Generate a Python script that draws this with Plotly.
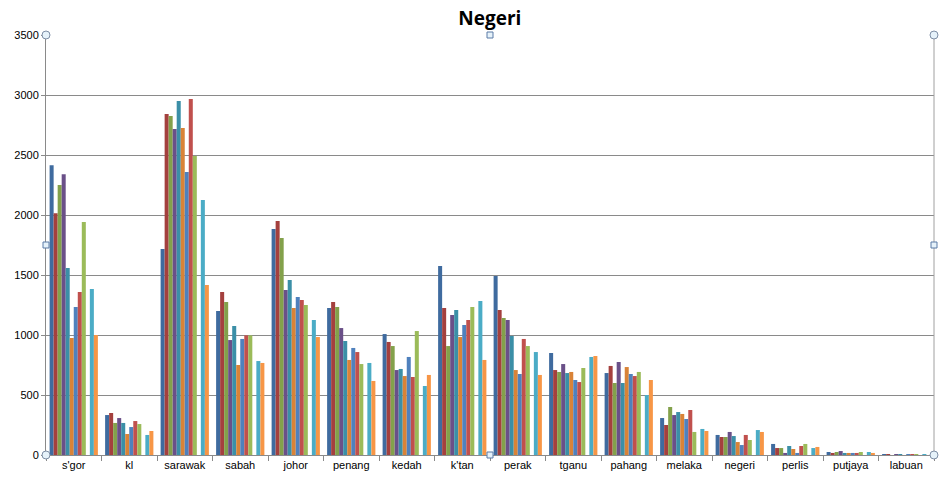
import plotly.graph_objects as go

categories = ["s'gor", "kl", "sarawak", "sabah", "johor", "penang", "kedah", "k'tan",
              "perak", "tganu", "pahang", "melaka", "negeri", "perlis", "putjaya", "labuan"]

s1 = [2415, 333, 1717, 1200, 1883, 1225, 1008, 1575, 1492, 850, 683, 308, 167, 92, 25, 8]
s2 = [2015, 350, 2842, 1358, 1950, 1275, 942, 1225, 1208, 708, 742, 250, 150, 58, 17, 8]
s3 = [2250, 267, 2825, 1275, 1808, 1233, 908, 908, 1142, 692, 600, 400, 150, 58, 25, 0]
s4 = [2340, 308, 2717, 958, 1375, 1058, 708, 1167, 1125, 758, 775, 333, 192, 17, 33, 8]
s5 = [1558, 267, 2950, 1075, 1458, 950, 717, 1208, 992, 683, 600, 358, 158, 75, 17, 8]
s6 = [975, 175, 2725, 750, 1225, 792, 658, 983, 708, 692, 733, 342, 108, 50, 17, 0]
s7 = [1233, 233, 2358, 967, 1317, 892, 817, 1083, 675, 625, 675, 300, 83, 17, 17, 8]
s8 = [1358, 283, 2967, 997, 1292, 858, 650, 1125, 967, 608, 658, 375, 167, 75, 17, 8]
s9 = [1942, 258, 2492, 997, 1250, 758, 1033, 1233, 908, 725, 692, 192, 125, 92, 25, 8]
s10 = [0, 0, 0, 0, 0, 0, 0, 0, 0, 0, 0, 0, 0, 0, 0, 0]
s11 = [1383, 167, 2125, 783, 1125, 767, 575, 1283, 858, 817, 500, 217, 208, 58, 25, 8]
s12 = [1000, 200, 1417, 767, 983, 617, 667, 792, 667, 825, 625, 200, 192, 67, 17, 0]

series = [s1, s2, s3, s4, s5, s6, s7, s8, s9, s10, s11, s12]
colors = ["#3F6B9F", "#A4403E", "#83A14B", "#6A5088", "#3B8FA7", "#D98337",
          "#4F81BD", "#C0504D", "#9BBB59", "#8064A2", "#4BACC6", "#F79646"]

fig = go.Figure()
for i, (vals, c) in enumerate(zip(series, colors)):
    fig.add_trace(go.Bar(x=categories, y=vals, marker=dict(color=c, line=dict(width=0)),
                         name=f"Series{i+1}"))

fig.update_layout(
    width=942, height=485,
    margin=dict(l=46, r=8, t=35, b=30),
    paper_bgcolor="white", plot_bgcolor="white",
    barmode="group", bargap=0.13, bargroupgap=0,
    showlegend=False,
    title=dict(text="<b>Negeri</b>", x=0.52, xanchor="center", y=0.963, yanchor="middle",
               font=dict(family="Open Sans", size=19, color="black")),
    font=dict(family="Liberation Sans", size=11, color="black"),
)
fig.update_yaxes(range=[0, 3500], dtick=500, showgrid=True, gridcolor="#8A8A8A", gridwidth=1,
                 showline=True, linecolor="#8A8A8A", ticks="outside", ticklen=4,
                 tickcolor="#8A8A8A", zeroline=False, tickfont=dict(size=11))
fig.update_xaxes(showline=True, linecolor="#8A8A8A", ticks="outside", ticklen=5,
                 tickcolor="#8A8A8A", tickson="boundaries", tickfont=dict(size=11))

# selection frame (right border) and handles as in the reference
fig.add_shape(type="line", xref="paper", yref="paper", x0=1, x1=1, y0=0, y1=1,
              line=dict(color="#A0A0A0", width=1))
for (px, py) in [(0, 0), (0, 1), (1, 0), (1, 1)]:
    fig.add_shape(type="circle", xref="paper", yref="paper", xsizemode="pixel", ysizemode="pixel",
                  xanchor=px, yanchor=py, x0=-4, x1=4, y0=-4, y1=4,
                  line=dict(color="#7F8FA6", width=1), fillcolor="#E6F2FA")
for (px, py) in [(0.5, 0), (0.5, 1), (0, 0.5), (1, 0.5)]:
    fig.add_shape(type="rect", xref="paper", yref="paper", xsizemode="pixel", ysizemode="pixel",
                  xanchor=px, yanchor=py, x0=-3, x1=3, y0=-3, y1=3,
                  line=dict(color="#5A7BA6", width=1), fillcolor="#E6F2FA")

fig.write_html("out.html")
